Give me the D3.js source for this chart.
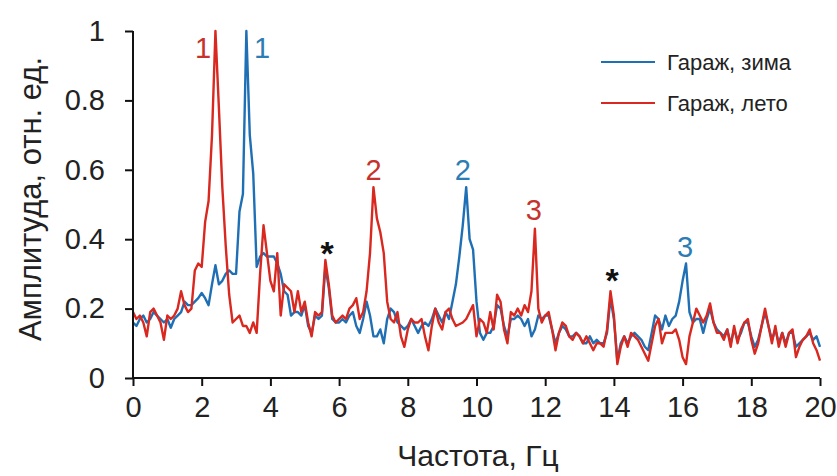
<!doctype html>
<html lang="ru">
<head>
<meta charset="utf-8">
<title>Спектр: Гараж, зима / лето</title>
<script src="https://cdn.jsdelivr.net/npm/d3@7"></script>
<style>
  html, body { margin: 0; padding: 0; background: #fff; }
  svg { display: block; font-family: "Liberation Sans", Arial, sans-serif; }
</style>
</head>
<body>
<svg id="chart" width="837" height="476"></svg>
<script>
// frequency grid: 0 .. 20 Hz, 0.1 Hz step
const freqStep = 0.1;

// Гараж, зима (blue)
const winter = [
  0.16, 0.15, 0.17, 0.18, 0.16, 0.17, 0.19, 0.18, 0.17, 0.16,
  0.17, 0.145, 0.17, 0.18, 0.19, 0.22, 0.21, 0.21, 0.22, 0.23,
  0.245, 0.23, 0.21, 0.27, 0.325, 0.27, 0.28, 0.30, 0.31, 0.30,
  0.30, 0.48, 0.53, 1.00, 0.70, 0.59, 0.32, 0.35, 0.36, 0.35,
  0.35, 0.35, 0.33, 0.30, 0.25, 0.24, 0.18, 0.19, 0.19, 0.18,
  0.21, 0.15, 0.13, 0.18, 0.17, 0.18, 0.32, 0.26, 0.17, 0.16,
  0.16, 0.17, 0.16, 0.18, 0.19, 0.15, 0.13, 0.17, 0.22, 0.18,
  0.12, 0.12, 0.14, 0.10, 0.17, 0.20, 0.19, 0.16, 0.15, 0.14,
  0.15, 0.17, 0.15, 0.13, 0.15, 0.16, 0.15, 0.17, 0.20, 0.18,
  0.16, 0.19, 0.17, 0.22, 0.27, 0.35, 0.44, 0.55, 0.40, 0.37,
  0.22, 0.13, 0.11, 0.13, 0.13, 0.15, 0.21, 0.20, 0.15, 0.12,
  0.17, 0.17, 0.18, 0.17, 0.15, 0.17, 0.12, 0.14, 0.18, 0.17,
  0.18, 0.18, 0.14, 0.10, 0.13, 0.15, 0.14, 0.12, 0.12, 0.13,
  0.12, 0.10, 0.10, 0.12, 0.10, 0.11, 0.10, 0.10, 0.13, 0.23,
  0.17, 0.05, 0.10, 0.12, 0.10, 0.12, 0.13, 0.12, 0.11, 0.09,
  0.08, 0.13, 0.18, 0.17, 0.14, 0.18, 0.15, 0.17, 0.18, 0.22,
  0.28, 0.33, 0.19, 0.16, 0.17, 0.17, 0.13, 0.17, 0.20, 0.16,
  0.14, 0.13, 0.12, 0.14, 0.10, 0.14, 0.11, 0.13, 0.16, 0.16,
  0.12, 0.09, 0.11, 0.15, 0.19, 0.15, 0.11, 0.14, 0.10, 0.13,
  0.10, 0.13, 0.13, 0.09, 0.10, 0.11, 0.12, 0.13, 0.11, 0.12,
  0.09
];

// Гараж, лето (red)
const summer = [
  0.19, 0.17, 0.18, 0.16, 0.12, 0.19, 0.20, 0.18, 0.16, 0.11,
  0.18, 0.17, 0.18, 0.20, 0.25, 0.21, 0.19, 0.20, 0.31, 0.33,
  0.32, 0.45, 0.51, 0.70, 1.00, 0.78, 0.55, 0.38, 0.24, 0.16,
  0.17, 0.18, 0.15, 0.15, 0.13, 0.16, 0.13, 0.30, 0.44, 0.36,
  0.28, 0.25, 0.36, 0.18, 0.27, 0.26, 0.25, 0.19, 0.25, 0.19,
  0.22, 0.16, 0.12, 0.19, 0.18, 0.19, 0.34, 0.27, 0.18, 0.16,
  0.17, 0.18, 0.17, 0.20, 0.21, 0.23, 0.17, 0.19, 0.25, 0.36,
  0.55, 0.46, 0.42, 0.36, 0.22, 0.17, 0.16, 0.19, 0.12, 0.09,
  0.14, 0.17, 0.16, 0.16, 0.17, 0.12, 0.08, 0.15, 0.20, 0.16,
  0.14, 0.19, 0.20, 0.17, 0.15, 0.155, 0.16, 0.17, 0.19, 0.21,
  0.12, 0.17, 0.16, 0.13, 0.19, 0.14, 0.24, 0.22, 0.14, 0.10,
  0.19, 0.18, 0.20, 0.18, 0.21, 0.19, 0.25, 0.43, 0.20, 0.16,
  0.18, 0.19, 0.14, 0.08, 0.13, 0.16, 0.15, 0.12, 0.11, 0.13,
  0.12, 0.10, 0.12, 0.10, 0.08, 0.10, 0.10, 0.09, 0.14, 0.25,
  0.18, 0.04, 0.09, 0.12, 0.09, 0.13, 0.12, 0.11, 0.09, 0.07,
  0.05, 0.10, 0.15, 0.17, 0.10, 0.13, 0.13, 0.13, 0.14, 0.11,
  0.06, 0.04, 0.12, 0.16, 0.20, 0.18, 0.16, 0.18, 0.215, 0.16,
  0.13, 0.13, 0.11, 0.14, 0.09, 0.15, 0.10, 0.14, 0.16, 0.17,
  0.11, 0.07, 0.10, 0.15, 0.20, 0.15, 0.10, 0.15, 0.09, 0.13,
  0.09, 0.13, 0.14, 0.06, 0.09, 0.11, 0.12, 0.14, 0.10, 0.08,
  0.05
];

const xTicks = [0, 2, 4, 6, 8, 10, 12, 14, 16, 18, 20];
const yTicks = [0, 0.2, 0.4, 0.6, 0.8, 1];

// peak annotations: [frequency, amplitude (baseline / star centre), text, series]
const peakLabels = [
  [2.04, 0.922, "1", "summer"],
  [3.76, 0.922, "1", "winter"],
  [7.0, 0.57, "2", "summer"],
  [9.6, 0.57, "2", "winter"],
  [11.67, 0.455, "3", "summer"],
  [16.07, 0.349, "3", "winter"],
  [5.65, 0.383, "*", "mark"],
  [13.95, 0.305, "*", "mark"]
];

const seriesNames = ["Гараж, зима", "Гараж, лето"];

const colors = { winter: "#1f6fb5", summer: "#d9281f", mark: "#111" };
const labelColors = { winter: "#2c7db4", summer: "#c5332c", mark: "#111" };

const svg = d3.select("#chart");
const margin = { top: 31, right: 17, bottom: 98, left: 133 };
const width = 837 - margin.left - margin.right;
const height = 476 - margin.top - margin.bottom;
const g = svg.append("g").attr("transform", `translate(${margin.left},${margin.top})`);

const x = d3.scaleLinear().domain([0, 20]).range([0, width]);
const y = d3.scaleLinear().domain([0, 1]).range([height, 0]);

const line = d3.line()
  .x((d, i) => x(i * freqStep))
  .y(d => y(d));

g.append("path").datum(winter)
  .attr("fill", "none").attr("stroke", colors.winter)
  .attr("stroke-width", 2.4).attr("stroke-linejoin", "round")
  .attr("d", line);

g.append("path").datum(summer)
  .attr("fill", "none").attr("stroke", colors.summer)
  .attr("stroke-width", 2.4).attr("stroke-linejoin", "round")
  .attr("d", line);

// axes
const xAxis = g.append("g").attr("transform", `translate(0,${height})`)
  .call(d3.axisBottom(x).tickValues(xTicks).tickSize(8).tickPadding(10).tickFormat(d3.format("d")));
const yAxis = g.append("g")
  .call(d3.axisLeft(y).tickValues(yTicks).tickSize(8).tickPadding(20)
    .tickFormat(d => d === 0 || d === 1 ? String(d) : d.toFixed(1)));

[xAxis, yAxis].forEach(ax => {
  ax.select(".domain").attr("stroke", "#111").attr("stroke-width", 2);
  ax.selectAll(".tick line").attr("stroke", "#111").attr("stroke-width", 2);
  ax.selectAll(".tick text").attr("fill", "#222").style("font-size", "29px");
});
xAxis.select(".domain").attr("d", `M0,0H${width}`);
yAxis.select(".domain").attr("d", `M0,${height}V0`);

// axis titles
svg.append("text")
  .attr("x", 478).attr("y", 466)
  .attr("text-anchor", "middle").attr("fill", "#222")
  .style("font-size", "30px").text("Частота, Гц");
svg.append("text")
  .attr("transform", "translate(41,199) rotate(-90)")
  .attr("text-anchor", "middle").attr("fill", "#222")
  .style("font-size", "31px").text("Амплитуда, отн. ед.");

// peak labels
g.selectAll("text.peak").data(peakLabels).join("text")
  .attr("class", "peak")
  .attr("x", d => x(d[0])).attr("y", d => y(d[1]))
  .attr("text-anchor", "middle")
  .attr("fill", d => labelColors[d[3]])
  .style("font-size", d => d[2] === "*" ? "34px" : "29px")
  .style("font-weight", d => d[2] === "*" ? "bold" : "normal")
  .attr("dy", d => d[2] === "*" ? "0.58em" : "0")
  .text(d => d[2]);

// legend
const legend = svg.append("g").attr("transform", "translate(601,62)");
["winter", "summer"].forEach((k, i) => {
  const row = legend.append("g").attr("transform", `translate(0,${i * 41})`);
  row.append("line").attr("x1", 0).attr("x2", 54).attr("y1", 0).attr("y2", 0)
    .attr("stroke", colors[k]).attr("stroke-width", 2.2);
  row.append("text").attr("x", 66).attr("y", 0).attr("dy", "0.35em")
    .attr("fill", "#222").style("font-size", "22px").text(seriesNames[i]);
});
</script>
</body>
</html>
